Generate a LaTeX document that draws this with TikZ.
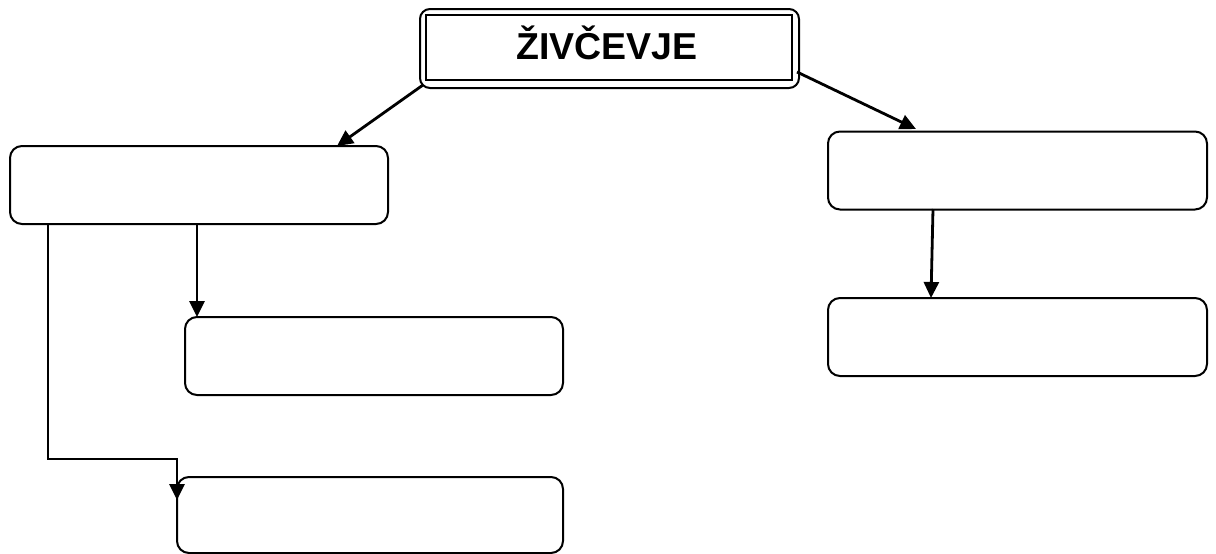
\documentclass[tikz,border=0pt]{standalone}
\usepackage{fontspec}
\setmainfont{Liberation Sans}
\usetikzlibrary{arrows.meta}
\begin{document}
\begin{tikzpicture}[x=1pt,y=-1pt,
  box/.style={draw,line width=2pt,rounded corners=12pt,inner sep=0pt},
  conn/.style={line width=2.8pt,-{Triangle[length=16pt,width=15pt]}}]
\useasboundingbox (0,0) rectangle (1216,554);
% title box
\draw[line width=2pt,rounded corners=10pt] (420,9) rectangle (799,88);
\node[draw,line width=1.5pt,minimum width=366pt,minimum height=65pt,inner sep=0pt] (top) at (609,47.5) {};
\node[anchor=base] (title) at (607,59) {\fontsize{37.5pt}{40pt}\selectfont\bfseries ŽIVČEVJE};
% boxes
\node[box,minimum width=378pt,minimum height=78pt] (A) at (199,185) {};
\node[box,minimum width=378pt,minimum height=78pt] (B) at (374,356) {};
\node[box,minimum width=386pt,minimum height=76pt] (C) at (370,515) {};
\node[box,minimum width=379pt,minimum height=78pt] (D) at (1017.5,170.5) {};
\node[box,minimum width=379pt,minimum height=78pt] (E) at (1017.5,337) {};
% connector points
\coordinate (t1) at (423,85);
\coordinate (a1) at (337,146);
\coordinate (t2) at (797,72);
\coordinate (d1) at (916,129);
\coordinate (a2) at (197,224);
\coordinate (b1) at (197,317);
\coordinate (a3) at (48,224);
\coordinate (k1) at (48,459);
\coordinate (k2) at (177,459);
\coordinate (c1) at (177,500);
\coordinate (d2) at (933,209);
\coordinate (e1) at (931,298);
\draw[conn] (t1) -- (a1);
\draw[conn] (t2) -- (d1);
\draw[conn] (a2) -- (b1);
\draw[conn] (a3) -- (k1) -- (k2) -- (c1);
\draw[conn] (d2) -- (e1);
\end{tikzpicture}
\end{document}
